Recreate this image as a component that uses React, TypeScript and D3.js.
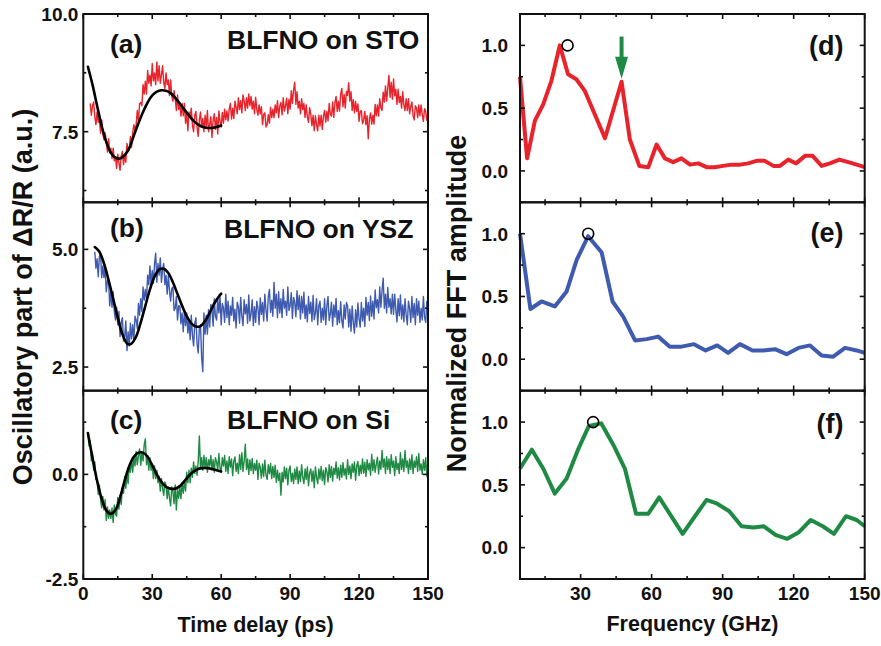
import React from 'react';
import * as d3 from 'd3';

// ---------------- DATA ----------------
// Time-domain traces (0.5 ps grid)
const stepTime = 0.5;
const startA = 3;
const valuesA = [
  8.1, 7.85, 8.05, 8.13, 7.82, 7.65, 7.92, 7.7, 7.78, 7.47, 7.75, 7.45, 7.33, 7.48, 7.3, 7.07, 7.35, 7.05, 7.15, 6.93,
  7.15, 6.88, 6.97, 6.72, 7.02, 6.85, 6.68, 6.98, 7.08, 6.8, 7.0, 6.85, 7.25, 7.1, 7.1, 7.4, 7.17, 7.48, 7.65, 7.52,
  7.65, 7.95, 7.72, 8.1, 8.12, 8.05, 8.5, 8.3, 8.57, 8.3, 8.8, 8.53, 8.7, 8.47, 8.95, 8.58, 8.75, 8.5, 8.98, 8.58,
  8.9, 8.53, 8.7, 8.9, 8.55, 8.42, 8.75, 8.5, 8.6, 8.27, 8.6, 8.25, 8.15, 8.37, 8.2, 7.95, 8.28, 7.97, 8.1, 7.83,
  8.1, 7.84, 8.1, 7.68, 7.9, 7.52, 7.92, 7.8, 8.0, 7.63, 7.5, 7.85, 7.93, 7.6, 7.4, 7.75, 7.92, 7.6, 7.78, 7.5,
  7.85, 7.6, 7.95, 7.5, 7.65, 7.82, 7.38, 7.75, 7.88, 7.55, 7.8, 7.45, 7.94, 7.72, 7.6, 7.91, 7.68, 7.98, 7.75, 7.94,
  7.73, 7.98, 8.1, 7.77, 8.0, 7.78, 8.15, 8.02, 7.88, 8.22, 7.97, 8.16, 7.9, 8.28, 8.15, 7.95, 8.22, 8.0, 8.3, 8.05,
  8.25, 7.98, 8.15, 7.88, 8.23, 7.97, 7.85, 8.07, 7.88, 8.03, 7.65, 7.87, 7.9, 7.6, 7.65, 7.86, 7.68, 8.02, 7.8, 7.98,
  7.8, 8.07, 7.9, 8.16, 7.8, 8.04, 8.12, 7.86, 8.22, 7.94, 8.05, 8.21, 7.88, 8.19, 7.98, 8.37, 8.1, 8.38, 8.55, 8.08,
  8.35, 8.0, 8.15, 7.88, 8.2, 7.97, 8.1, 7.8, 8.07, 7.82, 7.7, 8.01, 7.87, 7.63, 7.85, 7.52, 7.84, 7.65, 7.52, 7.85,
  7.62, 7.85, 7.55, 7.83, 7.95, 7.7, 7.93, 7.73, 8.1, 7.87, 7.83, 8.13, 7.8, 8.12, 8.25, 7.93, 8.15, 7.94, 8.3, 8.42,
  8.03, 8.29, 8.0, 8.36, 8.27, 8.54, 8.15, 8.35, 7.95, 8.18, 7.9, 8.14, 7.93, 8.09, 7.72, 7.93, 7.95, 7.67, 7.75, 7.93,
  7.65, 7.84, 7.35, 7.77, 7.9, 7.66, 7.85, 7.66, 8.08, 7.84, 8.07, 7.83, 8.2, 8.01, 7.95, 8.34, 8.13, 8.47, 8.15, 8.43,
  8.7, 8.23, 8.55, 8.19, 8.62, 8.26, 8.4, 8.08, 8.4, 8.12, 8.25, 8.0, 8.35, 8.07, 7.95, 8.2, 7.95, 8.2, 7.88, 8.04,
  8.13, 7.84, 7.75, 8.05, 8.0, 7.8, 8.07, 7.84, 8.07, 7.86, 7.72, 7.99, 7.93, 7.74, 7.9,
];
const startB = 5;
const valuesB = [
  4.95, 4.6, 4.8, 4.42, 4.85, 4.9, 4.4, 4.65, 4.4, 4.62, 4.1, 4.33, 4.35, 3.8, 4.1, 3.77, 4.1, 3.68, 3.5, 3.77,
  3.4, 3.68, 3.15, 3.45, 3.55, 3.05, 3.15, 3.48, 2.85, 3.25, 2.95, 3.43, 3.1, 3.4, 3.05, 3.58, 3.5, 3.32, 3.85, 3.6,
  3.95, 3.68, 4.2, 3.92, 4.15, 3.93, 4.45, 4.25, 4.65, 4.25, 4.55, 4.28, 4.7, 4.92, 4.3, 4.7, 4.45, 4.82, 4.3, 4.58,
  4.7, 4.25, 4.45, 4.05, 4.45, 4.13, 3.9, 4.17, 4.2, 3.7, 3.75, 4.0, 3.5, 3.8, 3.8, 3.42, 3.65, 3.25, 3.7, 3.38,
  3.65, 3.22, 3.5, 3.08, 3.6, 3.17, 2.95, 3.43, 3.55, 3.0, 2.8, 3.32, 3.4, 2.7, 2.4, 3.65, 3.2, 3.6, 3.2, 3.72,
  3.35, 3.83, 3.7, 3.37, 3.95, 3.58, 3.5, 3.95, 3.65, 4.0, 3.4, 3.85, 3.75, 3.45, 4.05, 3.55, 3.9, 3.4, 3.8, 3.6,
  3.98, 3.48, 3.73, 3.33, 3.88, 3.78, 3.43, 3.98, 3.58, 3.38, 3.93, 3.63, 3.83, 3.43, 4.03, 3.48, 3.63, 3.93, 3.38, 3.78,
  3.45, 3.9, 3.75, 3.4, 3.97, 3.62, 3.87, 3.48, 4.05, 3.71, 3.48, 3.99, 4.15, 3.66, 3.92, 3.58, 4.3, 3.75, 4.05, 3.55,
  4.1, 3.65, 3.95, 3.55, 4.15, 3.75, 3.9, 3.6, 4.2, 3.7, 3.8, 4.08, 3.53, 3.98, 3.88, 3.57, 4.12, 3.72, 4.02, 3.52,
  4.0, 3.65, 4.09, 3.53, 3.82, 3.46, 4.0, 3.64, 3.88, 3.47, 4.02, 3.51, 3.65, 3.95, 3.4, 3.8, 3.9, 3.45, 3.75, 3.5,
  3.95, 3.4, 3.8, 4.0, 3.49, 3.63, 3.88, 3.37, 3.82, 3.56, 3.96, 3.4, 3.7, 3.44, 3.89, 3.48, 3.33, 3.82, 3.52, 3.87,
  3.8, 3.35, 3.73, 3.26, 3.8, 3.44, 3.22, 3.72, 3.35, 3.86, 3.53, 3.35, 3.87, 3.48, 3.75, 3.36, 3.98, 3.6, 3.87, 3.49,
  4.01, 3.58, 3.9, 3.52, 4.14, 3.76, 3.93, 3.65, 4.2, 3.77, 4.12, 4.39, 3.75, 4.05, 3.65, 4.19, 3.77, 3.95, 3.63, 4.05,
  3.62, 4.05, 3.73, 3.46, 3.95, 3.59, 4.03, 3.52, 3.82, 3.46, 3.95, 3.6, 3.4, 3.9, 3.75, 3.45, 4.0, 3.55, 3.85, 3.4,
  3.95, 3.6, 3.9, 3.45, 3.75, 3.5, 4.0, 3.55, 3.45, 3.9, 3.6,
];
const startC = 2;
const valuesC = [
  1.0, 0.68, 0.8, 0.32, 0.5, 0.1, 0.3, -0.12, -0.1, -0.48, -0.25, -0.6, -0.8, -0.53, -0.85, -0.6, -1.1, -0.78, -1.05, -0.85,
  -1.05, -0.8, -1.15, -0.73, -0.95, -1.0, -0.55, -0.83, -0.5, -0.72, -0.3, -0.45, -0.05, -0.33, 0.0, -0.22, 0.2, 0.05, 0.35, 0.05,
  0.4, 0.2, 0.55, 0.23, 0.45, 0.61, 0.22, 0.52, 0.32, 0.71, 0.85, 0.23, 0.45, 0.1, 0.4, 0.1, 0.25, -0.1, 0.2, -0.1,
  0.1, -0.2, -0.05, -0.4, -0.1, -0.33, -0.5, -0.18, -0.25, -0.58, -0.3, -0.57, -0.75, -0.3, -0.4, -0.7, -0.25, -0.85, -0.35, -0.57,
  -0.3, -0.58, -0.2, -0.45, -0.15, -0.4, 0.05, -0.2, 0.1, -0.2, 0.15, -0.07, 0.3, 0.02, 0.2, -0.02, 0.3, 0.92, 0.15, 0.4,
  0.1, 0.45, 0.15, 0.4, 0.05, 0.35, 0.2, 0.45, 0.1, 0.35, 0.05, 0.4, 0.3, 0.1, 0.5, 0.15, 0.05, 0.4, 0.2, 0.45,
  0.07, 0.32, 0.02, 0.42, 0.17, 0.37, -0.03, 0.32, 0.42, 0.07, 0.27, 0.02, 0.47, 0.12, 0.52, 0.07, 0.32, 0.72, 0.12, 0.37,
  0.0, 0.35, 0.09, 0.38, 0.02, 0.26, 0.1, 0.34, -0.12, 0.27, 0.17, -0.09, 0.25, -0.05, 0.34, -0.01, -0.12, 0.23, 0.02, 0.26,
  -0.1, 0.19, -0.07, 0.22, -0.19, 0.1, -0.15, 0.03, -0.5, 0.05, -0.18, 0.18, -0.1, 0.15, -0.25, 0.1, 0.2, -0.17, 0.03, -0.22,
  0.13, -0.12, 0.18, -0.22, 0.08, -0.17, 0.23, -0.07, -0.22, 0.13, -0.12, 0.18, -0.27, 0.03, 0.13, -0.17, 0.08, -0.32, 0.18, -0.07,
  -0.22, 0.13, -0.11, 0.19, -0.15, 0.1, -0.24, 0.16, 0.07, -0.18, 0.23, -0.07, 0.19, -0.16, 0.15, 0.0, 0.3, -0.09, 0.16, -0.13,
  0.22, -0.07, 0.28, -0.02, 0.14, -0.11, 0.35, 0.0, 0.2, -0.1, 0.25, 0.05, 0.3, -0.14, 0.21, 0.31, -0.03, 0.22, 0.02, 0.37,
  0.03, 0.29, -0.05, 0.35, 0.11, 0.27, -0.02, 0.48, 0.09, 0.35, 0.05, 0.25, 0.41, 0.01, 0.32, 0.12, 0.57, 0.17, 0.37, 0.02,
  0.42, 0.12, 0.37, 0.02, 0.47, 0.17, 0.32, -0.03, 0.42, 0.12, 0.27, 0.02, 0.52, 0.12, 0.37, 0.07, 0.57, 0.17, 0.32, 0.02,
  0.37, 0.12, 0.47, 0.02, 0.32, 0.17, 0.42, 0.07, 0.5, 0.1, 0.25, 0.0, 0.35, 0.1, 0.4, -0.05, 0.3,
];

// Damped-oscillation fits (black)
const fitTimeA = [2, 4, 6, 8, 10, 12, 14, 16, 18, 20, 22, 24, 26, 28, 30, 32, 34, 36, 38, 40, 42, 44, 46, 48, 50, 52, 54, 56, 58, 60];
const fitValueA = [8.88, 8.5, 8.05, 7.62, 7.28, 7.05, 6.95, 6.93, 7.0, 7.15, 7.42, 7.68, 7.92, 8.12, 8.27, 8.35, 8.38, 8.37, 8.32, 8.22, 8.1, 7.97, 7.84, 7.73, 7.65, 7.6, 7.58, 7.58, 7.6, 7.63];
const fitTimeB = [5, 7, 9, 11, 13, 15, 17, 19, 20, 21, 23, 25, 27, 29, 31, 33, 35, 37, 39, 41, 43, 45, 47, 49, 51, 53, 55, 57, 59, 60];
const fitValueB = [5.05, 4.95, 4.7, 4.35, 3.95, 3.55, 3.2, 3.0, 2.98, 3.0, 3.15, 3.45, 3.8, 4.15, 4.42, 4.57, 4.59, 4.5, 4.3, 4.05, 3.8, 3.58, 3.43, 3.36, 3.37, 3.48, 3.65, 3.85, 4.0, 4.06];
const fitTimeC = [2, 4, 6, 8, 10, 12, 14, 16, 18, 20, 22, 24, 26, 28, 30, 32, 34, 36, 38, 40, 42, 44, 46, 48, 50, 52, 54, 56, 58, 60];
const fitValueC = [0.99, 0.4, -0.15, -0.58, -0.86, -0.94, -0.85, -0.55, -0.15, 0.2, 0.42, 0.52, 0.52, 0.42, 0.22, 0.0, -0.18, -0.3, -0.34, -0.34, -0.28, -0.16, -0.03, 0.07, 0.13, 0.15, 0.15, 0.13, 0.1, 0.07];

// FFT spectra
const freqD = [4.4, 7.4, 10.7, 14.2, 17.7, 21.2, 24.7, 28.2, 31.7, 40.3, 47.3, 50.8, 54.8, 58.6, 62.1, 65.6, 69.1, 72.6, 76.2, 79.7, 83.2, 86.7, 90.2, 93.8, 97.3, 100.8, 104.3, 107.8, 111.4, 114.2, 117.7, 121, 124.8, 128, 131.8, 135.3, 139.3, 143.1, 146.6, 150];
const ampD = [0.75, 0.1, 0.4, 0.53, 0.72, 1.0, 0.77, 0.73, 0.64, 0.26, 0.71, 0.25, 0.04, 0.03, 0.21, 0.1, 0.07, 0.1, 0.05, 0.06, 0.03, 0.03, 0.04, 0.05, 0.05, 0.06, 0.08, 0.08, 0.04, 0.04, 0.09, 0.06, 0.12, 0.12, 0.04, 0.06, 0.09, 0.07, 0.05, 0.03];
const freqE = [4.4, 8.8, 13.5, 19.1, 24.1, 28.3, 33.2, 38.9, 43.5, 48, 53, 57.9, 62.8, 67.7, 72.6, 77.9, 82.8, 87.7, 92.3, 97.3, 102.6, 107.1, 112.1, 117, 122, 126.9, 131.8, 136.7, 141.7, 146.6, 150];
const ampE = [1.0, 0.4, 0.46, 0.42, 0.54, 0.79, 0.98, 0.85, 0.46, 0.34, 0.15, 0.16, 0.18, 0.1, 0.1, 0.12, 0.07, 0.11, 0.05, 0.12, 0.07, 0.07, 0.08, 0.04, 0.09, 0.11, 0.03, 0.02, 0.09, 0.07, 0.05];
const freqF = [4.4, 9.4, 14.2, 19.1, 24.1, 28.9, 33.5, 38.7, 43.8, 48.7, 53.4, 58.6, 63.2, 73.1, 78.3, 83.2, 87.7, 92.8, 98, 102.9, 107.4, 112.5, 117.3, 122, 127.2, 132.3, 137, 142.1, 146.6, 150];
const ampF = [0.63, 0.78, 0.63, 0.43, 0.55, 0.78, 0.97, 0.99, 0.82, 0.63, 0.27, 0.27, 0.4, 0.11, 0.25, 0.38, 0.35, 0.29, 0.17, 0.16, 0.17, 0.1, 0.07, 0.12, 0.22, 0.17, 0.11, 0.25, 0.22, 0.17];

const peakFreq = [24.5, 33.2, 35.3];
const peakAmp = [1.0, 1.0, 1.0];
const arrowFreq = 47.3;
const arrowFrom = 1.07;
const arrowTo = 0.735;

const panelTags = ['(a)', '(b)', '(c)'];
const panelNames = ['BLFNO on STO', 'BLFNO on YSZ', 'BLFNO on Si'];
const fftTags = ['(d)', '(e)', '(f)'];
const timeTicks = [0, 30, 60, 90, 120, 150];
const freqTicks = [30, 60, 90, 120, 150];
const minorTicks = [15, 45, 75, 105, 135];
const timeDomains: [number, number][] = [[6, 10], [2, 6], [-2.5, 2]];
const fftDomain: [number, number] = [-0.25, 1.25];

// ---------------- STYLE / LAYOUT ----------------
const RED = '#e8232b';
const BLUE = '#3f5bb0';
const GREEN = '#1f8a43';
const FONT = '"Liberation Sans", Arial, Helvetica, sans-serif';
const LX0 = 83.3, LX1 = 428;
const RX0 = 520, RX1 = 864.7;
const TOPS = [14, 202.3, 390.7];
const PH = 188.3;

function range(a: number, b: number, step: number) {
  const out: number[] = [];
  const s = Math.ceil(a / step - 1e-9);
  for (let k = s; k * step <= b + 1e-9; k++) out.push(+(k * step).toFixed(6));
  return out;
}

function Frame({ x, y, x0, x1, top, xMajor, xMinor, yMajor, yMinor }: any) {
  const bottom = top + PH;
  const els: any[] = [];
  const MJ = 5, MN = 3;
  xMajor.forEach((v: number, i: number) => {
    const px = x(v);
    els.push(<line key={'xb' + i} x1={px} x2={px} y1={bottom} y2={bottom - MJ} />);
    els.push(<line key={'xt' + i} x1={px} x2={px} y1={top} y2={top + MJ} />);
  });
  xMinor.forEach((v: number, i: number) => {
    const px = x(v);
    els.push(<line key={'xbm' + i} x1={px} x2={px} y1={bottom} y2={bottom - MN} />);
    els.push(<line key={'xtm' + i} x1={px} x2={px} y1={top} y2={top + MN} />);
  });
  yMajor.forEach((v: number, i: number) => {
    const py = y(v);
    els.push(<line key={'yl' + i} x1={x0} x2={x0 + MJ} y1={py} y2={py} />);
    els.push(<line key={'yr' + i} x1={x1} x2={x1 - MJ} y1={py} y2={py} />);
  });
  yMinor.forEach((v: number, i: number) => {
    const py = y(v);
    els.push(<line key={'ylm' + i} x1={x0} x2={x0 + MN} y1={py} y2={py} />);
    els.push(<line key={'yrm' + i} x1={x1} x2={x1 - MN} y1={py} y2={py} />);
  });
  return (
    <g stroke="#111" strokeWidth={1.6} fill="none">
      {els}
      <rect x={x0} y={top} width={x1 - x0} height={PH} strokeWidth={2} />
    </g>
  );
}

export default function App() {
  const xT = d3.scaleLinear().domain([0, 150]).range([LX0, LX1]);
  const xF = d3.scaleLinear().domain([4.4, 150]).range([RX0, RX1]);

  const series = [
    { start: startA, vals: valuesA, fitT: fitTimeA, fitV: fitValueA, color: RED },
    { start: startB, vals: valuesB, fitT: fitTimeB, fitV: fitValueB, color: BLUE },
    { start: startC, vals: valuesC, fitT: fitTimeC, fitV: fitValueC, color: GREEN },
  ];
  const ffts = [
    { f: freqD, a: ampD, color: RED },
    { f: freqE, a: ampE, color: BLUE },
    { f: freqF, a: ampF, color: GREEN },
  ];
  const tagBase = [53, 237, 429];
  const nameX = [227, 224, 227];
  const nameBase = [48.5, 238, 429];
  const fftTagBase = [55, 242, 433];

  return (
    <svg width={881} height={646} style={{ position: 'absolute', left: 0, top: 0, background: '#fff' }} fontFamily={FONT} fontWeight="bold">
      <rect x={0} y={0} width={881} height={646} fill="#fff" />
      {series.map((s, i) => {
        const top = TOPS[i];
        const y = d3.scaleLinear().domain(timeDomains[i]).range([top + PH, top]);
        const pts = s.vals.map((v, k) => [s.start + k * stepTime, v] as [number, number]);
        const line = d3.line<[number, number]>().x(d => xT(d[0])).y(d => y(d[1]));
        const fitLine = d3.line<[number, number]>().x(d => xT(d[0])).y(d => y(d[1])).curve(d3.curveCatmullRom);
        const fitPts = s.fitT.map((t, k) => [t, s.fitV[k]] as [number, number]);
        const [lo, hi] = timeDomains[i];
        const yMaj = range(lo, hi, 2.5);
        const yMin = range(lo, hi, 1.25).filter(v => !yMaj.includes(v));
        return (
          <g key={'L' + i}>
            <path d={line(pts) || ''} fill="none" stroke={s.color} strokeWidth={1.4} strokeLinejoin="round" />
            <path d={fitLine(fitPts) || ''} fill="none" stroke="#000" strokeWidth={2.6} strokeLinecap="round" />
            <Frame x={xT} y={y} x0={LX0} x1={LX1} top={top} xMajor={timeTicks} xMinor={minorTicks} yMajor={yMaj} yMinor={yMin} />
            {yMaj.map(v => (
              <text key={v} x={LX0 - 5} y={y(v)} dy="0.36em" textAnchor="end" fontSize={19} fill="#111">{v.toFixed(1)}</text>
            ))}
            <text x={110} y={tagBase[i]} fontSize={26.5} fill="#111">{panelTags[i]}</text>
            <text x={nameX[i]} y={nameBase[i]} fontSize={26.5} fill="#111">{panelNames[i]}</text>
          </g>
        );
      })}
      {timeTicks.map(v => (
        <text key={'tx' + v} x={xT(v)} y={600} textAnchor="middle" fontSize={19} fill="#111">{v}</text>
      ))}
      <text x={255.5} y={632} textAnchor="middle" fontSize={21.5} fill="#111">Time delay (ps)</text>
      <text transform="translate(31.5,297) rotate(-90)" textAnchor="middle" fontSize={27} fill="#111">Oscillatory part of ΔR/R (a.u.)</text>

      {ffts.map((s, i) => {
        const top = TOPS[i];
        const y = d3.scaleLinear().domain(fftDomain).range([top + PH, top]);
        const pts = s.f.map((f, k) => [f, s.a[k]] as [number, number]);
        const line = d3.line<[number, number]>().x(d => xF(d[0])).y(d => y(d[1]));
        const yMaj = [0, 0.5, 1.0];
        const yMin = [-0.25, 0.25, 0.75, 1.25];
        return (
          <g key={'R' + i}>
            <path d={line(pts) || ''} fill="none" stroke={s.color} strokeWidth={4} strokeLinejoin="round" />
            <circle cx={xF(peakFreq[i])} cy={y(peakAmp[i])} r={5.5} fill="none" stroke="#000" strokeWidth={1.6} />
            <Frame x={xF} y={y} x0={RX0} x1={RX1} top={top} xMajor={freqTicks} xMinor={minorTicks} yMajor={yMaj} yMinor={yMin} />
            {yMaj.map(v => (
              <text key={v} x={RX0 - 12} y={y(v)} dy="0.36em" textAnchor="end" fontSize={19} fill="#111">{v.toFixed(1)}</text>
            ))}
            <text x={843.5} y={fftTagBase[i]} textAnchor="end" fontSize={27} fill="#111">{fftTags[i]}</text>
            {i === 0 && (() => {
              const ax = xF(arrowFreq);
              const yFrom = y(arrowFrom);
              const yTo = y(arrowTo);
              const headLen = 22;
              return (
                <g fill={GREEN} stroke="none">
                  <rect x={ax - 2} y={yFrom} width={4} height={yTo - yFrom - headLen + 2} />
                  <polygon points={`${ax - 6.5},${yTo - headLen} ${ax + 6.5},${yTo - headLen} ${ax},${yTo}`} />
                </g>
              );
            })()}
          </g>
        );
      })}
      {freqTicks.map(v => (
        <text key={'fx' + v} x={xF(v)} y={600} textAnchor="middle" fontSize={19} fill="#111">{v}</text>
      ))}
      <text x={692.5} y={631} textAnchor="middle" fontSize={21.5} fill="#111">Frequency (GHz)</text>
      <text transform="translate(466,303.5) rotate(-90)" textAnchor="middle" fontSize={27} fill="#111">Normalized FFT amplitude</text>
    </svg>
  );
}
